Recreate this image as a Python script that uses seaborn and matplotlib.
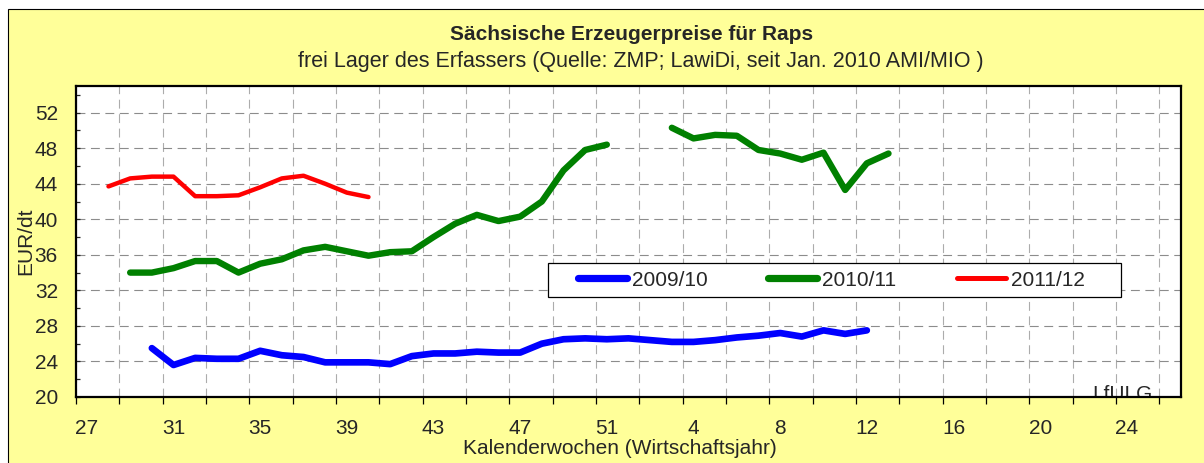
import numpy as np
import pandas as pd
import matplotlib
matplotlib.use("Agg")
import matplotlib.pyplot as plt
import seaborn as sns
from matplotlib.patches import Rectangle
from matplotlib.lines import Line2D
from matplotlib.ticker import FixedLocator, MultipleLocator

# ---------------- data ----------------
weeks = list(range(27, 52)) + list(range(1, 27))          # 51 calendar-week categories
tick_weeks = [27, 31, 35, 39, 43, 47, 51, 4, 8, 12, 16, 20, 24]

series_names = ["2009/10", "2010/11", "2011/12"]

blue_first_week = 30
blue_values = [25.5, 23.6, 24.4, 24.3, 24.3, 25.2, 24.7, 24.5, 23.9, 23.9, 23.9, 23.7,
               24.6, 24.9, 24.9, 25.1, 25.0, 25.0, 26.0, 26.5, 26.6, 26.5, 26.6, 26.4,
               26.2, 26.2, 26.4, 26.7, 26.9, 27.2, 26.8, 27.5, 27.1, 27.5]

green_first_week = 29
green_values = [34.0, 34.0, 34.5, 35.3, 35.3, 34.0, 35.0, 35.5, 36.5, 36.9, 36.4, 35.9,
                36.3, 36.4, 38.0, 39.5, 40.5, 39.8, 40.3, 42.0, 45.5, 47.8, 48.4,
                None, None,
                50.3, 49.1, 49.5, 49.4, 47.8, 47.4, 46.7, 47.5, 43.3, 46.3, 47.4]

red_first_week = 28
red_values = [43.7, 44.6, 44.8, 44.8, 42.6, 42.6, 42.7, 43.6, 44.6, 44.9, 44.0, 43.0, 42.5]

colors = {"2009/10": "#0000FF", "2010/11": "#008000", "2011/12": "#FF0000"}
widths = {"2009/10": 4.8, "2010/11": 4.6, "2011/12": 3.2}
legend_widths = {"2009/10": 5.2, "2010/11": 5.2, "2011/12": 3.6}


def build(name, first_week, values):
    start = weeks.index(first_week)
    rows, seg = [], 0
    for i, v in enumerate(values):
        if v is None:
            seg += 1
            continue
        rows.append({"pos": start + i, "value": v, "series": name, "seg": seg})
    return pd.DataFrame(rows)


df = pd.concat([
    build("2009/10", blue_first_week, blue_values),
    build("2010/11", green_first_week, green_values),
    build("2011/12", red_first_week, red_values),
], ignore_index=True)

# ---------------- style ----------------
sns.set_style("white")
plt.rcParams["font.family"] = ["Liberation Sans", "DejaVu Sans"]
FS = 15

fig = plt.figure(figsize=(12.04, 4.63), dpi=100)
fig.patch.set_facecolor("white")
fig.add_artist(Rectangle((8 / 1204, -0.05), 1.2, 1 - 9 / 463 + 0.05,
                         transform=fig.transFigure, facecolor="#FFFF99",
                         edgecolor="black", lw=0.8, zorder=-10))

ax = fig.add_axes([76 / 1204, 1 - 397 / 463, (1181 - 76) / 1204, (397 - 86) / 463])
ax.set_facecolor("white")

for name in series_names:
    sub = df[df["series"] == name]
    sns.lineplot(data=sub, x="pos", y="value", units="seg", estimator=None,
                 color=colors[name], lw=widths[name], ax=ax, legend=False,
                 solid_capstyle="round", solid_joinstyle="round", zorder=3)

# axes limits & ticks
ax.set_xlim(-0.5, len(weeks) - 0.5)
ax.set_ylim(20, 55)

ax.xaxis.set_major_locator(FixedLocator([weeks.index(w) for w in tick_weeks]))
ax.set_xticklabels([str(w) for w in tick_weeks])
ax.xaxis.set_minor_locator(FixedLocator(np.arange(-0.5, len(weeks) - 1, 2)))
ax.tick_params(axis="x", which="major", length=0, pad=16, labelsize=FS)
ax.tick_params(axis="x", which="minor", direction="out", length=5, width=0.9,
               color="black", bottom=True)

ax.set_yticks(np.arange(20, 53, 4))
ax.yaxis.set_minor_locator(MultipleLocator(2))
ax.tick_params(axis="y", which="major", direction="in", length=3, width=0.9,
               pad=13, labelsize=FS, left=True)
ax.tick_params(axis="y", which="minor", direction="in", length=3, width=0.9, left=True)

ax.set_axisbelow(True)
ax.yaxis.grid(True, which="major", color="#8c8c8c", lw=0.8, linestyle=(0, (8, 5)))
ax.xaxis.grid(True, which="minor", color="#acacac", lw=0.8, linestyle=(0, (8, 5)))
ax.xaxis.grid(False, which="major")

for sp in ax.spines.values():
    sp.set_color("black")
    sp.set_linewidth(1.6)

# labels
ax.set_xlabel("Kalenderwochen (Wirtschaftsjahr)", fontsize=FS)
ax.xaxis.set_label_coords((620 - 76) / 1105, (397 - 449) / 311)
ax.xaxis.label.set_va("center")
ax.set_ylabel("EUR/dt", fontsize=FS)
ax.yaxis.set_label_coords((26 - 76) / 1105, 0.5)
ax.yaxis.label.set_va("center")

fig.text(632 / 1204, 1 - 35 / 463, "Sächsische Erzeugerpreise für Raps",
         ha="center", va="center", fontsize=FS, fontweight="bold")
fig.text(641 / 1204, 1 - 62 / 463,
         "frei Lager des Erfassers (Quelle: ZMP; LawiDi, seit Jan. 2010 AMI/MIO )",
         ha="center", va="center", fontsize=15.5)

ax.text((1092 - 76) / 1105, (397 - 400) / 311, "LfULG", transform=ax.transAxes,
        ha="left", va="baseline", fontsize=15, clip_on=True, zorder=2)

# legend box (drawn as a frame) and frameless legend entries inside it
ax.add_patch(Rectangle(((548 - 76) / 1105, (397 - 297) / 311),
                       (1121 - 548) / 1105, (297 - 263) / 311,
                       transform=ax.transAxes, facecolor="white", edgecolor="black",
                       lw=0.9, zorder=4))
handles = [Line2D([0], [0], color=colors[n], lw=legend_widths[n], solid_capstyle="round")
           for n in series_names]
leg = ax.legend(handles, series_names, ncol=3, loc="center left",
                bbox_to_anchor=((578 - 76) / 1105, (397 - 280) / 311),
                fontsize=FS, frameon=False, handlelength=2.35, handletextpad=0.25,
                columnspacing=2.9, borderpad=0, borderaxespad=0)
leg.set_zorder(5)

fig.savefig("out.png", dpi=100, facecolor=fig.get_facecolor())
